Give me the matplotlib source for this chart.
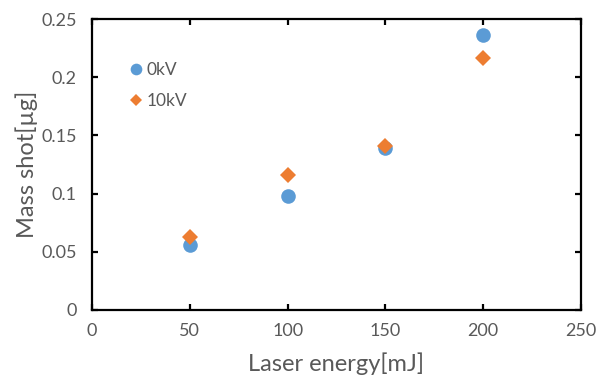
import matplotlib
matplotlib.use("Agg")
import matplotlib.pyplot as plt

energy = [50, 100, 150, 200]
mass_0kv = [0.056, 0.098, 0.139, 0.236]
mass_10kv = [0.0625, 0.116, 0.141, 0.2165]

plt.rcParams['font.family'] = ['Lato', 'DejaVu Sans']
gray = '#595959'

fig = plt.figure(figsize=(6.08, 3.79), dpi=100)
ax = fig.add_axes([92/608, 1 - 310/379, (581-92)/608, (310-19)/379])

ax.plot(energy, mass_0kv, 'o', color='#5B9BD5', markersize=10.5, label='0kV', markeredgewidth=0)
ax.plot(energy, mass_10kv, 'D', color='#ED7D31', markersize=8, label='10kV', markeredgewidth=0)

ax.set_xlim(0, 250)
ax.set_ylim(0, 0.25)
ax.set_xticks([0, 50, 100, 150, 200, 250])
ax.set_yticks([0, 0.05, 0.1, 0.15, 0.2, 0.25])
ax.set_yticklabels(['0', '0.05', '0.1', '0.15', '0.2', '0.25'])

for s in ax.spines.values():
    s.set_linewidth(1.6)
    s.set_color('black')
ax.tick_params(direction='in', length=4, width=1.6, top=True, right=True,
               labelsize=13, labelcolor=gray)
ax.tick_params(axis='x', pad=9)
ax.tick_params(axis='y', pad=11)

ax.set_xlabel('Laser energy[mJ]', fontsize=17, color=gray, labelpad=10)
ax.set_ylabel('Mass shot[µg]', fontsize=17, color=gray, labelpad=2)

ax.legend(loc='upper left', bbox_to_anchor=(0.04, 0.905), frameon=False,
          handletextpad=0.1, labelspacing=0.85, fontsize=12.5, labelcolor=gray,
          handlelength=1.0, markerscale=0.8)

fig.savefig('out.png', dpi=100)
